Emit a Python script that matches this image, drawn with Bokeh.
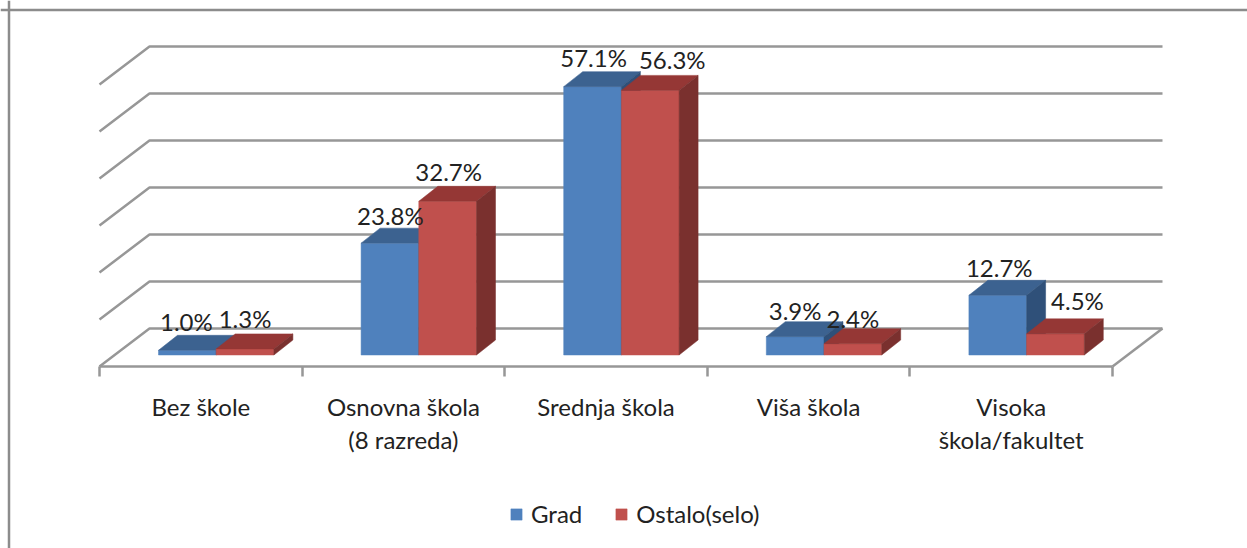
from bokeh.plotting import figure
from bokeh.models import ColumnDataSource, Legend, LegendItem, LinearAxis, FixedTicker, Range1d, Span
from bokeh.core.properties import value
from bokeh.embed import file_html
from bokeh.resources import INLINE

categories = ["Bez škole", "Osnovna škola\n(8 razreda)", "Srednja škola", "Viša škola", "Visoka\nškola/fakultet"]
grad = [1.0, 23.8, 57.1, 3.9, 12.7]
selo = [1.3, 32.7, 56.3, 2.4, 4.5]
grid_values = [0, 10, 20, 30, 40, 50, 60]
series_names = ["Grad", "Ostalo(selo)"]

FONT = "Lato"
W, H = 1247, 548
PX_X = 202.6          # pixels per category
PX_Y = 4.7            # pixels per percent
X0_PX, Y0_PX = 99, 354.5   # position of x=0 and y=0 inside the frame
px = lambda d: d / PX_X
py = lambda d: d / PX_Y

p = figure(width=W, height=H, output_backend="svg", toolbar_location=None,
           x_axis_type=None, y_axis_type=None, min_border=0,
           x_range=Range1d(-px(X0_PX), px(W - X0_PX)),
           y_range=Range1d(-py(H - Y0_PX), py(Y0_PX)))
p.grid.visible = False
p.outline_line_color = None
p.background_fill_color = "white"
p.border_fill_color = "white"

# frame of the picture: left and top edges only
BORDER = "#8c8c8c"
p.add_layout(Span(location=p.x_range.start + px(8.5), dimension="height", line_color=BORDER, line_width=2.5))
p.add_layout(Span(location=p.y_range.end - py(9.5), dimension="width", line_color=BORDER, line_width=2.5))

# floor and walls
FLOOR = py(-11.5)
DEPTH_X, DEPTH_Y = px(50), py(38)
n = len(categories)
gx, gy = [], []
for v in grid_values:
    gx.append([0, DEPTH_X, n + DEPTH_X])
    gy.append([FLOOR + v, FLOOR + v + DEPTH_Y, FLOOR + v + DEPTH_Y])
p.multi_line(gx, gy, line_color="#979797", line_width=2.5)
p.line([n, n + DEPTH_X], [FLOOR, FLOOR + DEPTH_Y], line_color="#979797", line_width=2.5)

# 3D bars
BAR_W = px(57.7)
BAR_LEFT = px(59)
BAR_DX, BAR_DY = px(19), py(15)
FACES = [("#4F81BD", "#3C6290", "#2F5079"), ("#C0504D", "#953735", "#7A302E")]
first = []
for i in range(n):
    for s, vals in enumerate((grad, selo)):
        front, top, side = FACES[s]
        l = i + BAR_LEFT + s * BAR_W
        r = l + BAR_W
        v = vals[i]
        q = p.quad(left=[l], right=[r], bottom=[0], top=[v], fill_color=front, line_color=front, line_width=0.5)
        p.patch([l, r, r + BAR_DX, l + BAR_DX], [v, v, v + BAR_DY, v + BAR_DY], fill_color=top, line_color=top, line_width=0.5)
        p.patch([r, r + BAR_DX, r + BAR_DX, r], [0, BAR_DY, v + BAR_DY, v], fill_color=side, line_color=side, line_width=0.5)
        if i == 0:
            first.append(q)

# data labels
label_dx = [[-1, 0], [0.5, 1], [1, 22], [0, 0], [1.5, 22]]
label_dy = [[29, 30], [28, 30], [29, 31], [26, 25], [28, 33]]
src = dict(x=[], y=[], t=[], dx=[], dy=[])
for i in range(n):
    for s, vals in enumerate((grad, selo)):
        src["x"].append(i + BAR_LEFT + (s + 0.5) * BAR_W)
        src["y"].append(vals[i])
        src["t"].append(f"{vals[i]:.1f}%")
        src["dx"].append(label_dx[i][s])
        src["dy"].append(-label_dy[i][s])
p.text("x", "y", text="t", source=ColumnDataSource(src), x_offset="dx", y_offset="dy",
       text_align="center", text_baseline="middle", text_font=value(FONT),
       text_font_size="24px", text_color="#222222")

# x axis: ticks between the categories, labels at their centres
ax = LinearAxis(ticker=FixedTicker(ticks=list(range(n + 1))), fixed_location=FLOOR, bounds=(0, n))
ax.axis_line_color = "#979797"
ax.axis_line_width = 2.5
ax.major_tick_line_color = "#979797"
ax.major_tick_line_width = 2.5
ax.major_tick_in = 0
ax.major_tick_out = 10
ax.minor_tick_line_color = None
ax.major_label_text_font_size = "0px"
ax.major_label_text_color = None
p.add_layout(ax, "below")

lab = LinearAxis(ticker=FixedTicker(ticks=[i + 0.5 for i in range(n)]), fixed_location=FLOOR)
lab.axis_line_color = None
lab.major_tick_line_color = None
lab.minor_tick_line_color = None
lab.major_tick_in = 0
lab.major_tick_out = 0
lab.major_label_overrides = {i + 0.5: c for i, c in enumerate(categories)}
lab.major_label_standoff = 25
lab.major_label_text_font = FONT
lab.major_label_text_font_size = "24px"
lab.major_label_text_color = "#222222"
lab.major_label_text_line_height = 1.17
p.add_layout(lab, "below")

legend = Legend(items=[LegendItem(label=series_names[0], renderers=[first[0]]),
                       LegendItem(label=series_names[1], renderers=[first[1]])],
                orientation="horizontal", location=(509, 20),
                background_fill_alpha=0, border_line_color=None, padding=0, margin=0,
                glyph_width=14, glyph_height=14, label_standoff=8, spacing=32,
                label_text_font=FONT, label_text_font_size="24px", label_text_color="#222222")
p.add_layout(legend)

open("out.html", "w").write(file_html(p, INLINE))
